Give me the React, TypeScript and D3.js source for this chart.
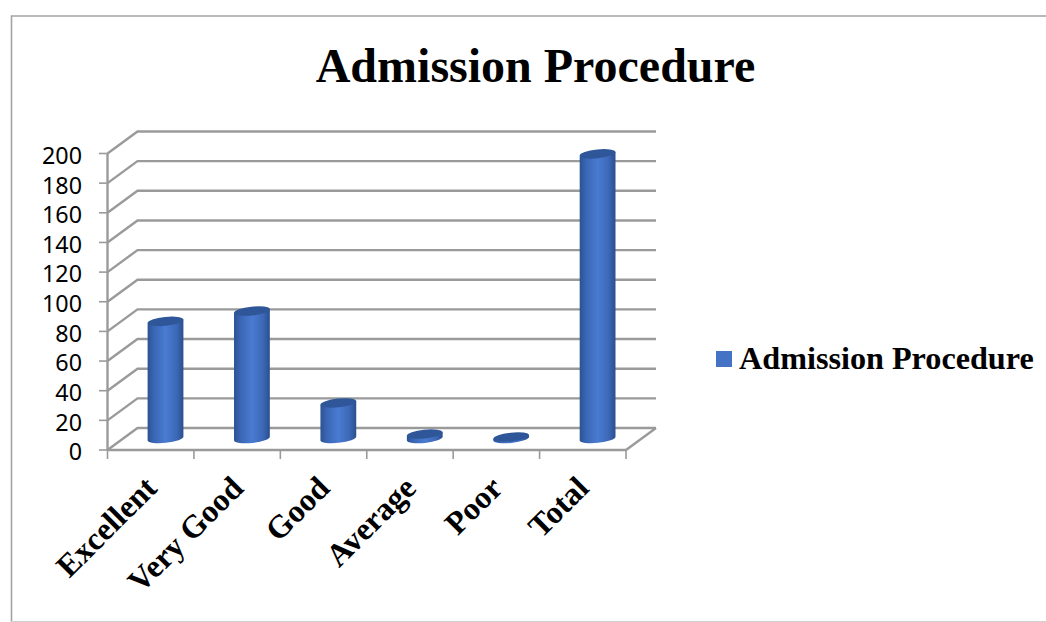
import React from "react";
import * as d3 from "d3";

const categories = ["Excellent", "Very Good", "Good", "Average", "Poor", "Total"];
const values = [79, 86, 24, 3, 1, 192];
const yTicks = [0, 20, 40, 60, 80, 100, 120, 140, 160, 180, 200];
const titleText = "Admission Procedure";
const seriesName = "Admission Procedure";

const W = 1046, H = 622;
const FX0 = 107.5, FX1 = 626, FY0 = 450, FY1 = 153.5;
const DX = 30, DY = -22;
const GRID = "#9a9a9a";
const SERIF = "'Liberation Serif','Times New Roman',serif";

export default function App() {
  const y = d3.scaleLinear().domain([0, 200]).range([FY0, FY1]);
  const x = d3.scaleBand().domain(categories).range([FX0, FX1]).padding(0);
  const barW = 36, rx = barW / 2, ry = 4.4, rot = -6;
  const offX = DX / 2 - 0.2, offY = DY / 2 - 0.5;
  const ex = rx * Math.cos((rot * Math.PI) / 180);
  const ey = -rx * Math.sin((rot * Math.PI) / 180);

  const cyl = (cx: number, top: number, base: number) =>
    `M${cx - ex},${top + ey}` +
    `L${cx - ex},${base + ey}` +
    `A${rx},${ry} ${rot} 0 0 ${cx + ex},${base - ey}` +
    `L${cx + ex},${top - ey}Z`;

  return (
    <svg width={W} height={H} viewBox={`0 0 ${W} ${H}`}
      style={{ position: "absolute", left: 0, top: 0, background: "#fff", display: "block" }}>
      <defs>
        <linearGradient id="cylGrad" x1="0" x2="1" y1="0" y2="0">
          <stop offset="0" stopColor="#2c5292" />
          <stop offset="0.18" stopColor="#3a66b4" />
          <stop offset="0.5" stopColor="#4a7bd2" />
          <stop offset="0.8" stopColor="#3c69b8" />
          <stop offset="1" stopColor="#2b4f8e" />
        </linearGradient>
      </defs>

      <path d={`M11.5,${H}V16H${W}`} fill="none" stroke="#a3a3a3" strokeWidth={1.6} />
      <line x1={11} x2={W} y1={H - 0.5} y2={H - 0.5} stroke="#d0d0d0" strokeWidth={1} />

      <text x={535.5} y={82} textAnchor="middle" fontFamily={SERIF} fontWeight="bold" fontSize={48}
        fill="#000">{titleText}</text>

      {yTicks.map((t) => (
        <g key={t}>
          <path d={`M${FX0},${y(t)}L${FX0 + DX},${y(t) + DY}H${FX1 + DX}`} fill="none" stroke={GRID} strokeWidth={2.4} />
          <line x1={99} x2={FX0} y1={y(t)} y2={y(t)} stroke={GRID} strokeWidth={1.6} />
          <text x={82} y={y(t) + 2} dy="0.36em" textAnchor="end" fontFamily="'Noto Sans',sans-serif"
            fontSize={23.3} fill="#000">{t}</text>
        </g>
      ))}
      <line x1={FX0} x2={FX0} y1={FY1} y2={FY0} stroke={GRID} strokeWidth={2.4} />
      <line x1={FX0} x2={FX1} y1={FY0} y2={FY0} stroke={GRID} strokeWidth={2.4} />
      <line x1={FX1} x2={FX1 + DX} y1={FY0} y2={FY0 + DY} stroke={GRID} strokeWidth={2.4} />
      {[...categories.map((c) => x(c) as number), FX1].map((tx, i) => (
        <line key={i} x1={tx} x2={tx} y1={FY0} y2={459} stroke={GRID} strokeWidth={1.6} />
      ))}

      {categories.map((c, i) => {
        const cx = (x(c) as number) + x.bandwidth() / 2 + offX;
        const base = y(0) + offY;
        const top = y(values[i]) + offY;
        return (
          <g key={c}>
            <path d={cyl(cx, top, base)} fill="url(#cylGrad)" />
            <ellipse cx={cx} cy={top} rx={rx} ry={ry} transform={`rotate(${rot} ${cx} ${top})`} fill="#2f5698" />
          </g>
        );
      })}

      {categories.map((c) => {
        const tx = (x(c) as number) + x.bandwidth() / 2 - 8;
        return (
          <text key={c} transform={`translate(${tx},474) rotate(-45)`} textAnchor="end" dy="0.7em"
            fontFamily={SERIF} fontWeight="bold" fontSize={32} fill="#000">{c}</text>
        );
      })}

      <rect x={716} y={351} width={16} height={16} fill="#4472c4" />
      <text x={739} y={369} fontFamily={SERIF} fontWeight="bold" fontSize={32.2} fill="#000">{seriesName}</text>
    </svg>
  );
}
